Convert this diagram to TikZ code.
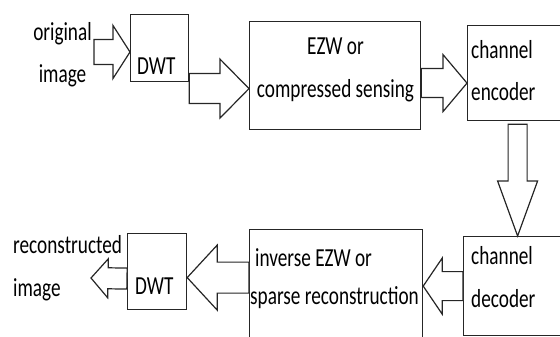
\documentclass[tikz,border=0pt]{standalone}
\usepackage{fontspec}
\setmainfont{Carlito}[FakeStretch=0.74]
\usetikzlibrary{calc}

\tikzset{
  box/.style={draw=black!85, line width=1.2pt, rectangle, inner sep=0pt, anchor=north west},
  txt/.style={inner sep=0pt, font=\fontsize{26}{43}\selectfont},
  blockarr/.style={draw=black!85, fill=white, line width=1.2pt, line join=miter},
}
% block arrow: tail, tip, shaft half width, head half width, head length (pt)
\newcommand{\blockarrow}[5]{%
  \coordinate (hb) at ($(#2)!#5pt!(#1)$);
  \draw[blockarr] ($(#1)!#3pt!90:(#2)$) -- ($(hb)!#3pt!90:(#2)$) -- ($(hb)!#4pt!90:(#2)$)
    -- (#2) -- ($(hb)!#4pt!-90:(#2)$) -- ($(hb)!#3pt!-90:(#2)$) -- ($(#1)!#3pt!-90:(#2)$) -- cycle;}

\begin{document}
\begin{tikzpicture}[x=1pt,y=-1pt]
\useasboundingbox (0,0) rectangle (560,337);
\clip (0,0) rectangle (560,337);

% Blocks of the chain.
\node[box, minimum width=58pt, minimum height=67pt] (dwt1) at (130,14) {};
\node[box, minimum width=171pt, minimum height=108pt] (ezw) at (249,21) {};
\node[box, minimum width=104pt, minimum height=95pt] (enc) at (467,25) {};
\node[box, minimum width=108pt, minimum height=99pt] (dec) at (463,236) {};
\node[box, minimum width=173pt, minimum height=120pt] (inv) at (249,229) {};
\node[box, minimum width=59pt, minimum height=76pt] (dwt2) at (127,233) {};

% Texts (base anchor sits on the last line).
\node[txt, anchor=base, align=center] (l-orig) at (62.5,83) {original\\image};
\node[txt, anchor=base west] (l-dwt1) at (137,75) {DWT};
\node[txt, anchor=base, align=center] (l-ezw) at (335.5,97) {EZW or\hspace{18pt}\\compressed sensing};
\node[txt, anchor=base west, align=left] (l-enc) at (471,101) {channel\\encoder};
\node[txt, anchor=base west, align=left] (l-dec) at (471,307) {channel\\decoder};
\node[txt, anchor=base west, align=left, font=\fontsize{26}{38}\selectfont] (l-inv) at (250,304) {\hspace{5pt}inverse EZW or\\sparse reconstruction};
\node[txt, anchor=base west] (l-dwt2) at (135,294) {DWT};
\node[txt, anchor=base west, align=left] (l-rec) at (13,296) {reconstructed\\image};

% Ends and tips of the block arrows.
\coordinate (src) at (94,52);
\coordinate (t1) at (src -| dwt1.west);
\coordinate (t2) at ([yshift=-13pt]ezw.west);
\coordinate (s2) at (t2 -| dwt1.east);
\coordinate (t3) at ([yshift=-10pt]enc.west);
\coordinate (s3) at (t3 -| ezw.east);
\coordinate (t4) at (dec.north);
\coordinate (s4) at ($(enc.south -| dec.north)+(0,3)$);
\coordinate (s5) at (dec.west);
\coordinate (t5) at (inv.east |- s5);
\coordinate (t6) at ([yshift=-6pt]dwt2.east);
\coordinate (s6) at (inv.west |- t6);
\coordinate (s7) at ([yshift=-7pt]dwt2.west);
\coordinate (dst) at (91,278);

\blockarrow{src}{t1}{12.5}{26.5}{17}
\blockarrow{s2}{t2}{15}{29.5}{29}
\blockarrow{s3}{t3}{14.5}{28.5}{24}
\blockarrow{s4}{t4}{9.5}{20}{55}
\blockarrow{s5}{t5}{14.5}{28}{19}
\blockarrow{s6}{t6}{15.5}{32.5}{30}
\blockarrow{s7}{dst}{10.5}{19.5}{17}
\end{tikzpicture}
\end{document}
